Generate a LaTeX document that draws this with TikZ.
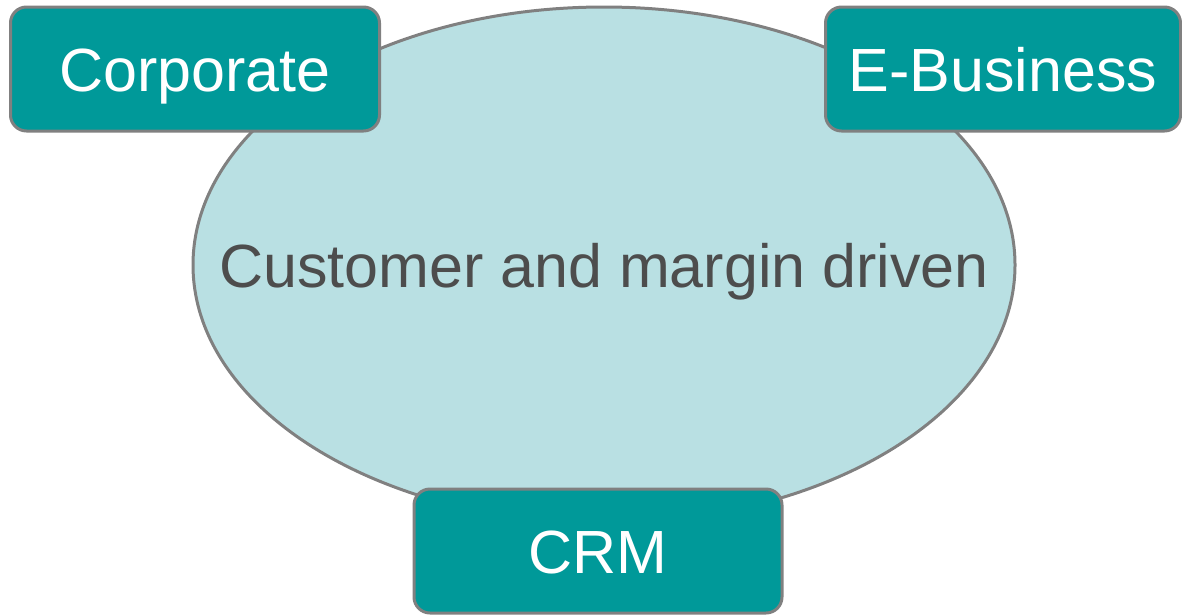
\documentclass[tikz,border=0pt]{standalone}
\usepackage{fontspec}
\setmainfont{Liberation Sans}
\usepackage{xcolor}
\usetikzlibrary{shapes.geometric,positioning}
\definecolor{teal}{RGB}{0,153,153}
\definecolor{paleblue}{RGB}{185,224,227}
\definecolor{rim}{RGB}{128,128,128}
\definecolor{ink}{RGB}{77,77,77}

\begin{document}
\begin{tikzpicture}[x=1pt,y=-1pt,
    unit/.style={draw=rim,line width=3pt,fill=teal,rounded corners=16pt,
        text=white,font=\fontsize{61}{72}\selectfont,inner sep=0pt,
        text height=44pt,text depth=0pt,minimum height=124pt},
    driver/.style={ellipse,draw=rim,line width=3pt,fill=paleblue,
        inner sep=0pt,minimum width=822pt,minimum height=516pt},
    drivertext/.style={text=ink,font=\fontsize{61}{72}\selectfont,
        text height=44pt,text depth=0pt}]
    \useasboundingbox (0,0) rectangle (1182,614);

    % central focus
    \node[driver,label={[drivertext]center:Customer and margin driven}]
        (focus) at (604,265) {};

    % business areas around it
    \node[unit,minimum width=369pt] (corp) at (195,69) {Corporate};
    \node[unit,minimum width=355pt] (ebiz) at (1003,69) {E-Business};
    \node[unit,minimum width=368pt] (crm) at (598,551) {CRM};
\end{tikzpicture}
\end{document}
